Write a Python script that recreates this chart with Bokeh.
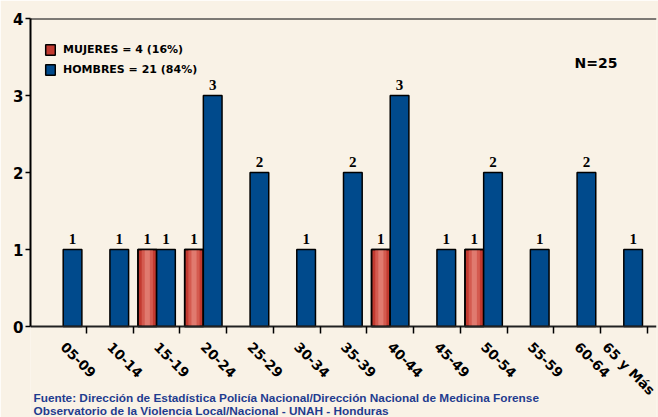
import math
import numpy as np
from bokeh.plotting import figure
from bokeh.models import (ColumnDataSource, Range1d, FixedTicker, Legend, LegendItem,
                          Label, LabelSet, Span)
from bokeh.transform import dodge
from bokeh.embed import file_html
from bokeh.resources import INLINE

# ---- data ----
categorias = ["05-09", "10-14", "15-19", "20-24", "25-29", "30-34", "35-39",
              "40-44", "45-49", "50-54", "55-59", "60-64", "65 y Más"]
mujeres = [0, 0, 1, 1, 0, 0, 0, 1, 0, 1, 0, 0, 0]
hombres = [1, 1, 1, 3, 2, 1, 2, 3, 1, 2, 1, 2, 1]
y_ticks = [0, 1, 2, 3, 4]
leyenda_mujeres = "MUJERES = 4 (16%)"
leyenda_hombres = "HOMBRES = 21 (84%)"
total_texto = "N=25"
fuente_1 = "Fuente: Dirección de Estadística Policía Nacional/Dirección Nacional de Medicina Forense"
fuente_2 = "Observatorio de la Violencia Local/Nacional - UNAH - Honduras"

BG = "#f9f2e6"
RED = "#c23a30"
BLUE = "#004a8c"
FOOT = "#1f3c8f"

idx = list(range(len(categorias)))
src_m = ColumnDataSource(dict(x=[i for i, v in zip(idx, mujeres) if v > 0],
                              v=[v for v in mujeres if v > 0]))
src_h = ColumnDataSource(dict(x=[i for i, v in zip(idx, hombres) if v > 0],
                              v=[v for v in hombres if v > 0]))
src_m.data["t"] = [str(v) for v in src_m.data["v"]]
src_h.data["t"] = [str(v) for v in src_h.data["v"]]

# frame reaches the bottom of the canvas; the x axis is pinned at y = 0
Y_BOTTOM = -1.1818
p = figure(width=658, height=417, output_backend="svg", toolbar_location=None,
           x_range=Range1d(-0.7, len(categorias) - 0.3),
           y_range=Range1d(Y_BOTTOM, y_ticks[-1]),
           min_border_left=30, min_border_right=2, min_border_top=18, min_border_bottom=0,
           background_fill_color=BG, border_fill_color=BG, outline_line_color=None)
p.grid.visible = False

W = 0.4
r_m = p.vbar(x=dodge("x", -0.2, range=p.x_range), top="v", width=W, source=src_m,
             fill_color=RED, line_color="black", line_width=1.5)
p.vbar(x=dodge("x", -0.2, range=p.x_range), top="v", width=0.24, source=src_m,
       fill_color="#d45a4f", line_color=None)
p.vbar(x=dodge("x", -0.2, range=p.x_range), top="v", width=0.11, source=src_m,
       fill_color="#e07a6f", line_color=None)
p.vbar(x=dodge("x", -0.2, range=p.x_range), top="v", width=W, source=src_m,
       fill_color=None, line_color="black", line_width=1.5)
r_h = p.vbar(x=dodge("x", 0.2, range=p.x_range), top="v", width=W, source=src_h,
             fill_color=BLUE, line_color="black", line_width=1.5)

lbl_font = "DejaVu Sans"
for s, off in ((src_m, -0.2), (src_h, 0.2)):
    p.add_layout(LabelSet(x=dodge("x", off, range=p.x_range), y="v", text="t", source=s,
                          y_offset=6, text_align="center", text_baseline="alphabetic",
                          text_font=lbl_font, text_font_size="15px", text_font_style="bold",
                          text_color="black"))

p.add_layout(Span(location=y_ticks[-1], dimension="width", line_color="black", line_width=2))

# axes
xa = p.xaxis[0]
xa.fixed_location = 0
xa.ticker = FixedTicker(ticks=idx, minor_ticks=[i + 0.5 for i in idx])
xa.major_label_overrides = {i: c for i, c in zip(idx, categorias)}
xa.major_label_orientation = -math.pi / 4
xa.major_tick_out = 0
xa.major_tick_in = 0
xa.major_tick_line_color = None
xa.minor_tick_out = 7
xa.minor_tick_in = 0
xa.minor_tick_line_color = "black"
xa.minor_tick_line_width = 1.5
xa.axis_line_color = "#222222"
xa.axis_line_width = 2
xa.major_label_standoff = 11
xa.major_label_text_font = lbl_font
xa.major_label_text_font_size = "13.5px"
xa.major_label_text_font_style = "bold"
xa.major_label_text_color = "black"

ya = p.yaxis[0]
ya.bounds = (y_ticks[0], y_ticks[-1])
ya.ticker = FixedTicker(ticks=y_ticks, minor_ticks=[])
ya.major_tick_out = 5
ya.major_tick_in = 0
ya.major_tick_line_color = "black"
ya.major_tick_line_width = 1.5
ya.axis_line_color = "black"
ya.axis_line_width = 2
ya.major_label_standoff = 2
ya.major_label_text_font = lbl_font
ya.major_label_text_font_size = "15px"
ya.major_label_text_font_style = "bold"
ya.major_label_text_color = "black"

legend = Legend(items=[LegendItem(label=leyenda_mujeres, renderers=[r_m]),
                       LegendItem(label=leyenda_hombres, renderers=[r_h])],
                location=(14, 341), orientation="vertical",
                padding=0, margin=0, spacing=7, glyph_width=12, glyph_height=13,
                label_height=13, label_standoff=7,
                label_text_font=lbl_font, label_text_font_size="11px",
                label_text_font_style="bold", label_text_color="black",
                background_fill_alpha=0, border_line_alpha=0)
p.add_layout(legend)

p.add_layout(Label(x=544, y=355, x_units="screen", y_units="screen", text=total_texto,
                   text_font=lbl_font, text_font_size="14px", text_font_style="bold",
                   text_baseline="middle", text_color="black"))

for t, yy in ((fuente_1, 20), (fuente_2, 7)):
    p.add_layout(Label(x=3, y=yy, x_units="screen", y_units="screen", text=t,
                       text_font="Liberation Sans", text_font_size="11.8px",
                       text_font_style="bold", text_color=FOOT, text_baseline="alphabetic"))

open("out.html", "w").write(file_html(p, INLINE))
